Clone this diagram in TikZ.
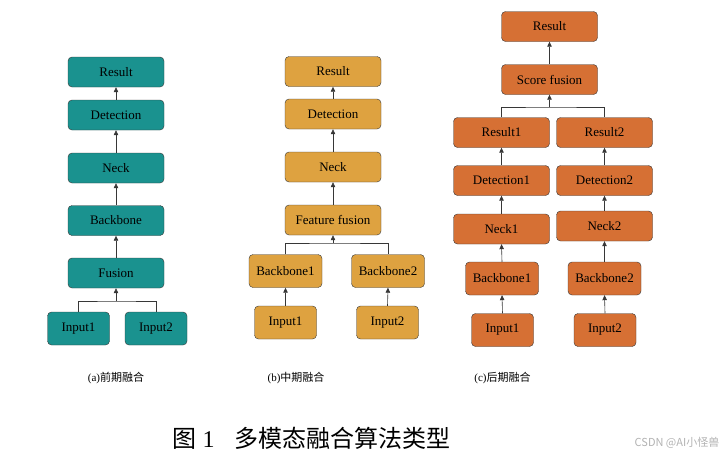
\documentclass[tikz,border=0pt]{standalone}
\usepackage{fontspec}
\setmainfont{Liberation Serif}
\newfontfamily\cjk{Noto Sans CJK SC}
\usepackage{tikz}
\usetikzlibrary{positioning, arrows.meta, shapes.geometric}
\definecolor{tealbox}{RGB}{26,146,143}
\definecolor{goldbox}{RGB}{222,162,64}
\definecolor{rustbox}{RGB}{214,112,52}
\definecolor{linegray}{RGB}{55,55,55}

\begin{document}
\begin{tikzpicture}[x=1pt, y=-1pt]
    % Stili per i blocchi e le frecce
    \tikzset{
        blocco/.style={
            rectangle,
            rounded corners=4pt,
            draw=linegray,
            thin,
            inner sep=0pt,
            font=\fontsize{13}{15}\selectfont
        },
        bigblk/.style={blocco, minimum width=96pt, minimum height=30pt},
        midblk/.style={blocco, minimum width=73pt, minimum height=33pt},
        inblk/.style={blocco, minimum width=62pt, minimum height=33pt},
        freccia/.style={draw=linegray, semithick, -{Triangle[width=4.5pt,length=5pt]}},
        ramo/.style={draw=linegray, semithick},
        didascalia/.style={font=\fontsize{11}{13}\selectfont}
    }
    \useasboundingbox (0,0) rectangle (720,458);

    % --- (a) Fusione precoce ---
    \node[bigblk, fill=tealbox] (aRes) at (116,72) {Result};
    \node[bigblk, fill=tealbox] (aDet) at (116,115) {Detection};
    \node[bigblk, fill=tealbox] (aNeck) at (116,168) {Neck};
    \node[bigblk, fill=tealbox] (aBack) at (116,220.5) {Backbone};
    \node[bigblk, fill=tealbox] (aFus) at (116,273) {Fusion};
    \node[inblk, fill=tealbox] (aIn1) at (78.5,328.5) {Input1};
    \node[inblk, fill=tealbox] (aIn2) at (156,328.5) {Input2};
    \coordinate (aFork) at (116,301);
    \foreach \a/\b in {aDet/aRes, aNeck/aDet, aBack/aNeck, aFus/aBack} {
        \draw[freccia] (\a.north) -- (\b.south);
    }
    \draw[ramo] (aIn1.north) |- (aFork) -| (aIn2.north);
    \draw[freccia] (aFork) -- (aFus.south);
    \node[didascalia] (aCap) at (116,378) {(a){\cjk 前期融合}};

    % --- (b) Fusione intermedia ---
    \node[bigblk, fill=goldbox] (bRes) at (333,71.5) {Result};
    \node[bigblk, fill=goldbox] (bDet) at (333,114) {Detection};
    \node[bigblk, fill=goldbox] (bNeck) at (333,167) {Neck};
    \node[bigblk, fill=goldbox] (bFus) at (333,220) {Feature fusion};
    \node[midblk, fill=goldbox] (bBack1) at (285.5,271) {Backbone1};
    \node[midblk, fill=goldbox] (bBack2) at (388,271) {Backbone2};
    \node[inblk, fill=goldbox] (bIn1) at (285.5,322.5) {Input1};
    \node[inblk, fill=goldbox] (bIn2) at (387.5,322.5) {Input2};
    \coordinate (bFork) at (333,243);
    \foreach \a/\b in {bDet/bRes, bNeck/bDet, bFus/bNeck, bIn1/bBack1, bIn2/bBack2} {
        \draw[freccia] (\a.north) -- (\b.south);
    }
    \draw[ramo] (bBack1.north) |- (bFork) -| (bBack2.north);
    \draw[freccia] (bFork) -- (bFus.south);
    \node[didascalia] (bCap) at (296,378) {(b){\cjk 中期融合}};

    % --- (c) Fusione tardiva ---
    \node[bigblk, fill=rustbox] (cRes) at (549.5,26.5) {Result};
    \node[bigblk, fill=rustbox] (cScore) at (549.5,79.5) {Score fusion};
    \node[bigblk, fill=rustbox] (cRes1) at (501.5,132.5) {Result1};
    \node[bigblk, fill=rustbox] (cRes2) at (604.5,132.5) {Result2};
    \node[bigblk, fill=rustbox] (cDet1) at (501.5,180.5) {Detection1};
    \node[bigblk, fill=rustbox] (cDet2) at (604.5,180.5) {Detection2};
    \node[bigblk, fill=rustbox] (cNeck1) at (501.5,229) {Neck1};
    \node[bigblk, fill=rustbox] (cNeck2) at (604.5,226) {Neck2};
    \node[midblk, fill=rustbox] (cBack1) at (502,278.5) {Backbone1};
    \node[midblk, fill=rustbox] (cBack2) at (604.5,278.5) {Backbone2};
    \node[inblk, fill=rustbox] (cIn1) at (502.5,330) {Input1};
    \node[inblk, fill=rustbox] (cIn2) at (605,330) {Input2};
    \coordinate (cFork) at (549.5,107);
    \foreach \a/\b in {cScore/cRes, cDet1/cRes1, cDet2/cRes2, cNeck1/cDet1, cNeck2/cDet2,
                       cBack1/cNeck1, cBack2/cNeck2, cIn1/cBack1, cIn2/cBack2} {
        \draw[freccia] (\a.north) -- (\b.south);
    }
    \draw[ramo] (cRes1.north) |- (cFork) -| (cRes2.north);
    \draw[freccia] (cFork) -- (cScore.south);
    \node[didascalia] (cCap) at (502.5,378) {(c){\cjk 后期融合}};

    % Titolo della figura
    \node[font=\fontsize{24}{27}\selectfont, anchor=west] (titolo) at (169,438) {{\cjk 图} 1\hspace{0.85em}{\cjk 多模态融合算法类型}};
    \node[font=\cjk\fontsize{11}{13}\selectfont, text=black!30] (marchio) at (677,443) {CSDN @AI小怪兽};
\end{tikzpicture}
\end{document}
